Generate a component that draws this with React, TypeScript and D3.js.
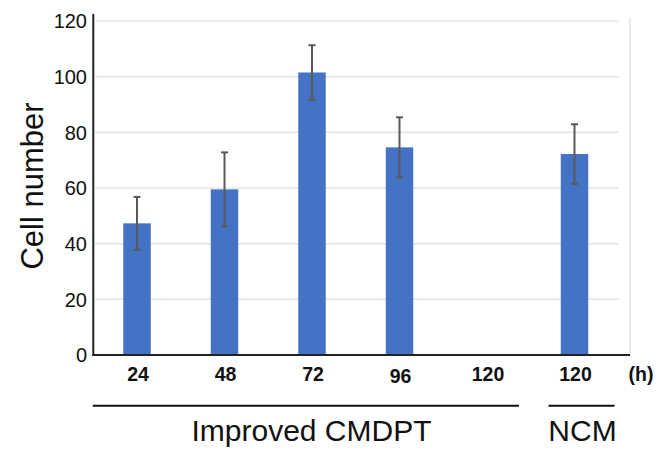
import React from 'react';
import * as d3 from 'd3';

// time points (h); the last one is the NCM control
const hourLabels = ['24', '48', '72', '96', '120', '120'];
const groupOf = ['cmdpt', 'cmdpt', 'cmdpt', 'cmdpt', 'cmdpt', 'ncm'];
const cellMeans: (number | null)[] = [47.3, 59.5, 101.5, 74.6, null, 72.2];
const cellErrors: (number | null)[] = [9.5, 13.3, 9.8, 10.8, null, 10.7];
const yTicks = [0, 20, 40, 60, 80, 100, 120];
const groupNames = [
  { key: 'cmdpt', label: 'Improved CMDPT' },
  { key: 'ncm', label: 'NCM' },
];

const FONT = 'Liberation Sans, Arial, Helvetica, sans-serif';

const App: React.FC = () => {
  const width = 668;
  const height = 457;

  const idx = hourLabels.map((_, i) => String(i));
  const x = d3.scaleBand()
    .domain(idx)
    .range([93.25, 618.25])
    .paddingInner(0.686)
    .paddingOuter(0.343);

  const y = d3.scaleLinear()
    .domain([0, 120])
    .range([355, 21]);

  const axisLeft = 93.3;
  const axisRight = 630;
  const cx = (i: number) => x(String(i))! + x.bandwidth() / 2;

  // spans of the group brackets under the axis
  const groupSpan = (key: string) =>
    groupOf.map((g, i) => (g === key ? i : -1)).filter(i => i >= 0);
  const cmdptIdx = groupSpan('cmdpt');
  const ncmIdx = groupSpan('ncm');
  const brackets = [
    { label: groupNames[0].label, x1: axisLeft - 0.5, x2: cx(cmdptIdx[cmdptIdx.length - 1]) + 32, tx: 311.5 },
    { label: groupNames[1].label, x1: cx(ncmIdx[0]) - 26, x2: cx(ncmIdx[ncmIdx.length - 1]) + 40, tx: 582.5 },
  ];

  return (
    <div style={{ position: 'fixed', left: 0, top: 0 }}>
      <svg width={width} height={height} style={{ display: 'block', background: '#fff' }}>
        {/* gridlines */}
        <g>
          {yTicks.filter(t => t > 0).map(t => (
            <line key={t} x1={95} x2={619} y1={y(t)} y2={y(t)} stroke="#e4e4e4" strokeWidth={1.5} />
          ))}
        </g>
        {/* light right border */}
        <line x1={axisRight} x2={axisRight} y1={18} y2={y(0)} stroke="#e4e4e4" strokeWidth={1.5} />

        {/* bars */}
        <g>
          {cellMeans.map((v, i) => v == null ? null : (
            <rect key={i} x={x(String(i))!} y={y(v)} width={x.bandwidth()} height={y(0) - y(v)} fill="#4472C4" />
          ))}
        </g>

        {/* error bars */}
        <g stroke="#595959" strokeWidth={2}>
          {cellMeans.map((v, i) => {
            const e = cellErrors[i];
            if (v == null || e == null) return null;
            const c = cx(i);
            return (
              <g key={i}>
                <line x1={c} x2={c} y1={y(v + e)} y2={y(v - e)} />
                <line x1={c - 3.5} x2={c + 3.5} y1={y(v + e)} y2={y(v + e)} />
                <line x1={c - 3.5} x2={c + 3.5} y1={y(v - e)} y2={y(v - e)} />
              </g>
            );
          })}
        </g>

        {/* axes */}
        <line x1={axisLeft} x2={axisLeft} y1={14} y2={y(0) + 1} stroke="#222" strokeWidth={2} />
        <line x1={axisLeft - 1} x2={axisRight} y1={y(0)} y2={y(0)} stroke="#222" strokeWidth={2} />

        {/* y tick labels */}
        <g fontFamily={FONT} fontSize={20} fill="#111" textAnchor="end">
          {yTicks.map(t => (
            <text key={t} x={87} y={y(t)} dy="0.36em">{t}</text>
          ))}
        </g>

        {/* y axis title */}
        <text
          transform={`translate(43,186) rotate(-90)`}
          textAnchor="middle"
          fontFamily={FONT}
          fontSize={31}
          fill="#111"
        >
          Cell number
        </text>

        {/* x tick labels */}
        <g fontFamily={FONT} fontSize={19.5} fontWeight="bold" fill="#111" textAnchor="middle">
          {hourLabels.map((h, i) => (
            <text key={i} x={cx(i) + 1} y={i === 3 ? 383 : 381}>{h}</text>
          ))}
          <text x={641} y={381}>(h)</text>
        </g>

        {/* group brackets */}
        {brackets.map(b => (
          <g key={b.label}>
            <line x1={b.x1} x2={b.x2} y1={405.7} y2={405.7} stroke="#111" strokeWidth={2} />
            <text x={b.tx} y={441} textAnchor="middle" fontFamily={FONT} fontSize={30} fill="#111">
              {b.label}
            </text>
          </g>
        ))}
      </svg>
    </div>
  );
};

export default App;
